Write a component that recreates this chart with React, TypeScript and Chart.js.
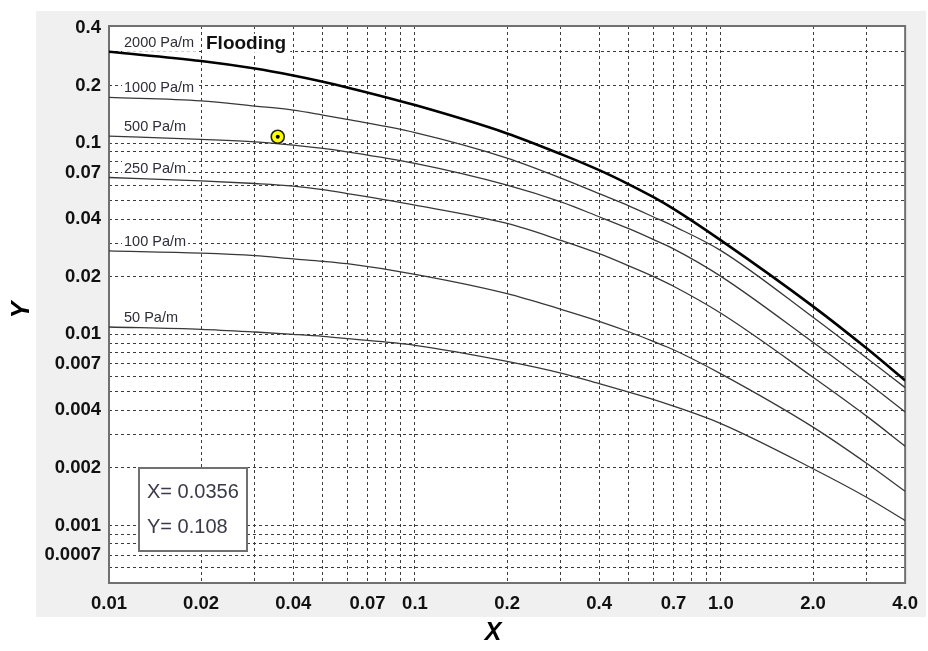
import React, { useEffect, useRef } from 'react';
import { Chart, registerables } from 'chart.js';

Chart.register(...registerables);

// ---------- data ----------
const xPoints = [0.01, 0.02, 0.03, 0.04, 0.05, 0.06, 0.1, 0.2, 0.3, 0.4, 0.5, 0.6, 0.7, 1.0, 2.0, 3.0, 4.0];
const y2000 = [0.3006, 0.2688, 0.2455, 0.2257, 0.2094, 0.1957, 0.1581, 0.1124, 0.0876, 0.0722, 0.0609, 0.0523, 0.0453, 0.0310, 0.0140, 0.00842, 0.00574];
const y1000 = [0.1735, 0.1665, 0.1562, 0.1489, 0.1402, 0.1331, 0.1135, 0.0835, 0.0656, 0.0544, 0.0470, 0.0412, 0.0368, 0.0274, 0.01227, 0.00749, 0.00526];
const y500 = [0.1088, 0.1046, 0.1016, 0.0976, 0.0938, 0.0900, 0.0783, 0.0603, 0.0493, 0.0412, 0.0357, 0.0314, 0.0280, 0.0201, 0.00908, 0.00561, 0.00392];
const y250 = [0.0661, 0.0635, 0.0615, 0.0596, 0.0571, 0.0545, 0.0474, 0.0380, 0.0310, 0.0264, 0.0228, 0.0201, 0.01784, 0.01288, 0.00596, 0.00372, 0.0026];
const y100 = [0.0273, 0.0266, 0.0258, 0.0248, 0.0241, 0.0234, 0.0206, 0.01633, 0.01352, 0.0117, 0.01031, 0.00919, 0.0083, 0.00621, 0.00327, 0.00211, 0.00151];
const y50 = [0.01092, 0.01062, 0.01028, 0.0100, 0.00976, 0.0095, 0.00876, 0.00722, 0.00627, 0.00552, 0.00499, 0.00457, 0.00421, 0.00341, 0.00198, 0.0014, 0.00106];
const curveLabels = ['2000 Pa/m', '1000 Pa/m', '500 Pa/m', '250 Pa/m', '100 Pa/m', '50 Pa/m'];
const floodingLabel = 'Flooding';

const markerX = 0.0356;
const markerY = 0.108;

const xMin = 0.01;
const xMax = 4.0;
const yMin = 0.0005;
const yMax = 0.41;

const xGridValues = [0.01, 0.02, 0.03, 0.04, 0.05, 0.06, 0.07, 0.08, 0.09, 0.1, 0.2, 0.3, 0.4, 0.5, 0.6, 0.7, 0.8, 0.9, 1, 2, 3, 4];
const xTickLabels = ['0.01', '0.02', '0.04', '0.07', '0.1', '0.2', '0.4', '0.7', '1.0', '2.0', '4.0'];
const yGridValues = [
  0.0005, 0.0006, 0.0007, 0.0008, 0.0009,
  0.001, 0.002, 0.003, 0.004, 0.005, 0.006, 0.007, 0.008, 0.009,
  0.01, 0.02, 0.03, 0.04, 0.05, 0.06, 0.07, 0.08, 0.09,
  0.1, 0.2, 0.3, 0.4,
];
const yTickLabels = ['0.4', '0.2', '0.1', '0.07', '0.04', '0.02', '0.01', '0.007', '0.004', '0.002', '0.001', '0.0007'];

const curveSeries = [y2000, y1000, y500, y250, y100, y50];

const FONT = '"Liberation Sans", Arial, Helvetica, sans-serif';
const GRID_COLOR = '#3c3c3c';

function labelFor(value: number, labels: string[]): string {
  for (const l of labels) {
    const v = parseFloat(l);
    if (Math.abs(v - value) / v < 1e-6) return l;
  }
  return '';
}

const decorPlugin = {
  id: 'decor',
  beforeDraw(chart: any) {
    const { ctx, chartArea: a, width, height } = chart;
    ctx.save();
    ctx.fillStyle = '#ffffff';
    ctx.fillRect(0, 0, width, height);
    ctx.fillStyle = '#f0f0f0';
    ctx.fillRect(36, 11, 890, 606);
    ctx.fillStyle = '#ffffff';
    ctx.fillRect(a.left, a.top, a.right - a.left, a.bottom - a.top);
    ctx.restore();
  },
  beforeDatasetsDraw(chart: any) {
    const { ctx, chartArea: a, scales } = chart;
    const ys = scales.y;
    ctx.save();
    ctx.textBaseline = 'middle';
    ctx.textAlign = 'left';
    ctx.font = `14.5px ${FONT}`;
    curveSeries.forEach((vals, i) => {
      const cy = ys.getPixelForValue(vals[0]) - 9;
      const tx = a.left + 15;
      const w = ctx.measureText(curveLabels[i]).width;
      ctx.fillStyle = '#ffffff';
      ctx.fillRect(tx - 2, cy - 9, w + 4, 18);
      ctx.fillStyle = '#2e2e3a';
      ctx.fillText(curveLabels[i], tx, cy);
    });
    ctx.font = `bold 19px ${FONT}`;
    const fy = ys.getPixelForValue(y2000[0]) - 8;
    const fx = a.left + 97;
    const fw = ctx.measureText(floodingLabel).width;
    ctx.fillStyle = '#ffffff';
    ctx.fillRect(fx - 2, fy - 10, fw + 6, 19);
    ctx.fillStyle = '#111111';
    ctx.fillText(floodingLabel, fx, fy);

    // plot border
    ctx.strokeStyle = '#707070';
    ctx.lineWidth = 2;
    ctx.strokeRect(a.left, a.top, a.right - a.left, a.bottom - a.top);
    ctx.restore();
  },
  afterDraw(chart: any) {
    const { ctx, chartArea: a } = chart;
    ctx.save();
    // info box
    const bx = a.left + 30;
    const by = 468;
    ctx.fillStyle = '#ffffff';
    ctx.fillRect(bx, by, 108, 83);
    ctx.strokeStyle = '#707070';
    ctx.lineWidth = 2;
    ctx.strokeRect(bx, by, 108, 83);
    ctx.fillStyle = '#3a3a4a';
    ctx.font = `20px ${FONT}`;
    ctx.textAlign = 'left';
    ctx.textBaseline = 'middle';
    ctx.fillText(`X= ${markerX}`, bx + 8, by + 24);
    ctx.fillText(`Y= ${markerY}`, bx + 8, by + 59);

    // axis titles
    ctx.fillStyle = '#000000';
    ctx.font = `italic bold 25px ${FONT}`;
    ctx.textAlign = 'center';
    ctx.fillText('X', 493, 633);
    ctx.translate(22, 310);
    ctx.rotate(-Math.PI / 2);
    ctx.fillText('Y', 0, 0);
    ctx.restore();
  },
};

export default function App() {
  const canvasRef = useRef<HTMLCanvasElement | null>(null);

  useEffect(() => {
    document.body.style.margin = '0';
    const canvas = canvasRef.current;
    if (!canvas) return;
    Chart.defaults.font.family = FONT;

    const thinColor = '#383838';
    const datasets: any[] = [
      {
        label: 'marker-dot',
        data: [{ x: markerX, y: markerY }],
        showLine: false,
        pointRadius: 2,
        pointBackgroundColor: '#000000',
        pointBorderWidth: 0,
        order: -2,
      },
      {
        label: 'marker',
        data: [{ x: markerX, y: markerY }],
        showLine: false,
        pointRadius: 6.5,
        pointBackgroundColor: '#ffff00',
        pointBorderColor: '#222222',
        pointBorderWidth: 1.6,
        order: -1,
      },
    ];
    curveSeries.forEach((vals, i) => {
      datasets.push({
        label: curveLabels[i],
        data: xPoints.map((x, j) => ({ x, y: vals[j] })),
        borderColor: i === 0 ? '#000000' : thinColor,
        borderWidth: i === 0 ? 2.6 : 1.3,
        pointRadius: 0,
        fill: false,
        cubicInterpolationMode: 'monotone',
      });
    });

    const tickFont = { size: 18.5, weight: 'bold', family: FONT };

    const chart = new Chart(canvas, {
      type: 'line',
      data: { datasets },
      plugins: [decorPlugin],
      options: {
        responsive: false,
        animation: false,
        devicePixelRatio: 1,
        layout: { padding: { top: 26, right: 15, left: 0, bottom: 0 } },
        plugins: { legend: { display: false }, tooltip: { enabled: false } },
        scales: {
          x: {
            type: 'logarithmic',
            min: xMin,
            max: xMax,
            afterFit(scale: any) { scale.height = 68; },
            afterBuildTicks(scale: any) { scale.ticks = xGridValues.map((v) => ({ value: v })); },
            grid: { color: GRID_COLOR, lineWidth: 1, drawTicks: false },
            border: { display: false, dash: [3, 3] },
            ticks: {
              autoSkip: false,
              maxRotation: 0,
              padding: 10,
              color: '#111111',
              font: tickFont,
              callback: (v: any) => labelFor(Number(v), xTickLabels),
            },
          },
          y: {
            type: 'logarithmic',
            min: yMin,
            max: yMax,
            afterFit(scale: any) { scale.width = 109; },
            afterBuildTicks(scale: any) { scale.ticks = yGridValues.map((v) => ({ value: v })); },
            grid: {
              color: (c: any) => (c.tick && Math.abs(c.tick.value - 0.4) < 1e-9 ? 'rgba(0,0,0,0)' : GRID_COLOR),
              lineWidth: 1,
              drawTicks: false,
            },
            border: { display: false, dash: [3, 3] },
            ticks: {
              autoSkip: false,
              padding: 8,
              color: '#111111',
              font: tickFont,
              callback: (v: any) => labelFor(Number(v), yTickLabels),
            },
          },
        },
      } as any,
    });
    return () => chart.destroy();
  }, []);

  return (
    <div style={{ width: 928, height: 651 }}>
      <canvas ref={canvasRef} width={928} height={651} style={{ display: 'block' }} />
    </div>
  );
}
